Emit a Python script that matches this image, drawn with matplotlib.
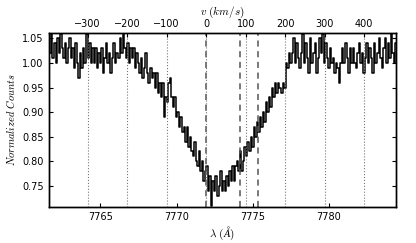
import numpy as np
import matplotlib
matplotlib.use("Agg")
import matplotlib.pyplot as plt

plt.rcParams['mathtext.fontset'] = 'cm'
plt.rcParams['font.family'] = ['DejaVu Sans']

lam_start = 7761.6
lam_step = 0.1
flux = [
    1.05, 1.02, 1.06, 1.01, 1.04, 1.00, 1.05, 1.02, 1.06, 1.03,
    1.01, 1.04, 1.00, 1.03, 1.05, 1.01, 1.03, 0.99, 1.04, 1.00,
    0.97, 1.02, 0.99, 1.03, 1.00, 1.06, 1.01, 1.04, 1.00, 1.03,
    1.00, 1.03, 0.99, 1.02, 1.00, 1.03, 0.98, 1.01, 1.04, 1.00,
    1.02, 0.98, 1.01, 1.04, 1.00, 1.02, 1.01, 1.05, 1.02, 1.06,
    1.03, 1.01, 1.04, 1.00, 1.03, 1.01, 1.03, 0.99, 1.02, 1.00,
    0.98, 1.01, 0.97, 0.99, 1.02, 0.98, 0.96, 0.99, 0.97, 0.98,
    0.95, 0.98, 0.94, 0.96, 0.93, 0.96, 0.89, 0.93, 0.92, 0.96,
    0.97, 0.93, 0.91, 0.93, 0.89, 0.90, 0.87, 0.89, 0.86, 0.87,
    0.84, 0.87, 0.83, 0.85, 0.82, 0.81, 0.84, 0.80, 0.79, 0.82,
    0.78, 0.80, 0.76, 0.78, 0.79, 0.74, 0.77, 0.71, 0.76, 0.74,
    0.77, 0.73, 0.75, 0.78, 0.74, 0.76, 0.74, 0.77, 0.75, 0.78,
    0.76, 0.79, 0.76, 0.79, 0.80, 0.78, 0.82, 0.78, 0.80, 0.83,
    0.81, 0.84, 0.82, 0.85, 0.83, 0.87, 0.85, 0.88, 0.86, 0.89,
    0.87, 0.90, 0.88, 0.92, 0.90, 0.93, 0.91, 0.95, 0.93, 0.96,
    0.94, 0.96, 0.95, 0.94, 0.96, 0.95, 1.00, 0.99, 1.02, 1.00,
    1.02, 1.05, 1.00, 1.04, 1.01, 0.99, 1.02, 1.06, 1.00, 1.04,
    1.01, 0.98, 1.05, 1.00, 1.02, 1.04, 0.98, 1.01, 1.05, 1.02,
    1.06, 1.00, 1.04, 1.01, 0.99, 1.03, 1.00, 1.01, 0.98, 1.00,
    0.99, 0.96, 1.00, 1.03, 1.00, 1.04, 1.01, 0.98, 1.03, 1.00,
    1.03, 1.00, 0.99, 1.02, 1.04, 1.00, 1.02, 0.98, 1.01, 1.04,
    1.00, 1.03, 1.01, 0.98, 1.04, 1.00, 1.02, 1.05, 1.01, 0.99,
    1.03, 1.05, 1.00, 1.04, 1.01, 1.06, 1.02, 1.00, 1.04,
]
wave = lam_start + lam_step * np.arange(len(flux))

lam0 = 7771.94
line_centers = [7771.94, 7774.17, 7775.35]
vel_ticks = [-300, -200, -100, 0, 100, 200, 300, 400]
xlim = (7761.6, 7784.4)
ylim = (0.707, 1.061)
c_kms = 299792.458

fig = plt.figure(figsize=(4.16, 2.43), dpi=100)
ax = fig.add_axes([0.117, 0.148, 0.835, 0.716])

ax.plot(wave, flux, drawstyle='steps-mid', color='black', lw=1.1)
for lc in line_centers:
    ax.axvline(lc, color='#555555', ls=(0, (4, 3)), lw=1.1)

ax.set_xlim(*xlim)
ax.set_ylim(*ylim)
ax.set_xticks([7765, 7770, 7775, 7780])
yt = [0.75, 0.80, 0.85, 0.90, 0.95, 1.00, 1.05]
ax.set_yticks(yt)
ax.set_yticklabels(['%.2f' % v for v in yt])
ax.tick_params(direction='in', labelsize=7, length=3, top=False, right=True)
ax.set_xlabel(r'$\lambda\ (\AA)$', fontsize=8, labelpad=2)
ax.set_ylabel(r'$Normalized\ Counts$', fontsize=7.5, labelpad=4)

ax2 = ax.twiny()
ax2.set_xlim((xlim[0] - lam0) / lam0 * c_kms, (xlim[1] - lam0) / lam0 * c_kms)
ax2.set_xticks(vel_ticks)
ax2.tick_params(direction='in', labelsize=7, length=3, pad=3)
ax2.grid(True, axis='x', ls=':', color='#777777', lw=0.8)
ax2.set_xlabel(r'$v\ (km/s)$', fontsize=8, labelpad=3)

for a in (ax, ax2):
    for s in a.spines.values():
        s.set_linewidth(1.0)

fig.savefig('out.png', dpi=100)
